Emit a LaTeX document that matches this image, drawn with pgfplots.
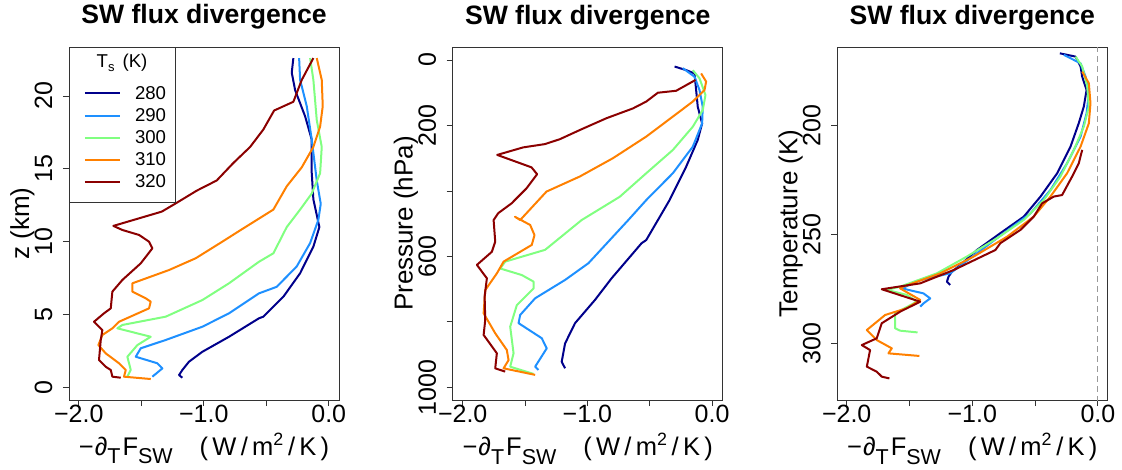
\documentclass[border=0pt]{standalone}
\usepackage{fontspec}
\setmainfont{Liberation Sans}
\usepackage{pgfplots}
\pgfplotsset{compat=1.18}
\definecolor{c280}{HTML}{00008B}
\definecolor{c290}{HTML}{1E90FF}
\definecolor{c300}{HTML}{80FF80}
\definecolor{c310}{HTML}{FF8000}
\definecolor{c320}{HTML}{8B0000}
\newcommand{\sub}[1]{\raisebox{-9pt}{\fontsize{21.5}{21.5}\selectfont #1}}
\newcommand{\xlab}{−\hspace*{1pt}∂\sub{T}\hspace*{2pt}F\sub{SW}\hspace*{27pt}(\,W\,/\,m\textsuperscript{2}\,/\,K\,)}
\pgfplotsset{
  panel/.style={
    scale only axis, width=270pt, height=353pt,
    anchor=north west,
    axis line style={black!80, line width=0.8pt},
    tick align=outside, major tick length=6pt,
    tick style={black!80, line width=0.8pt},
    xtick pos=lower, ytick pos=left,
    xmin=-2.078, xmax=0.082,
    xtick={-2,-1.5,-1,-0.5,0},
    xticklabels={−2.0,,−1.0,,0.0},
    tick label style={font=\fontsize{25}{25}\selectfont},
    xticklabel style={anchor=north, inner sep=0pt},
    xticklabel shift=-1pt,
    yticklabel style={rotate=90, anchor=south, inner sep=0pt},
    yticklabel shift=10.5pt,
    title={SW flux divergence},
    title style={font=\bfseries\fontsize{26.6}{26.6}\selectfont, at={(axis description cs:0.5,1)}, anchor=base, yshift=17pt},
    xlabel={\xlab},
    xlabel style={font=\fontsize{25.5}{25.5}\selectfont, at={(axis description cs:0.5,-0.1558)}, anchor=base},
    ylabel style={font=\fontsize{26}{26}\selectfont, at={(axis description cs:-0.148,0.5)}, anchor=base},
    every axis plot/.append style={line width=2pt, line join=round, no markers},
  }
}
\begin{document}
\begin{tikzpicture}
\useasboundingbox (0,0) rectangle (1122pt,-470pt);
% ---------- panel 1 ----------
\begin{axis}[panel, at={(69pt,-47pt)},
  ymin=-0.87, ymax=23.36, ytick={0,5,10,15,20}, yticklabels={0,5,10,15,20},
  ylabel={z (km)},
  legend style={font=\fontsize{18.6}{18.6}\selectfont, draw=black!80, line width=0.8pt, fill=white,
    at={(axis description cs:0,1)}, anchor=north west, inner xsep=9pt, inner ysep=13.65pt,
    row sep=7.6pt, nodes={inner sep=0pt}, /tikz/every odd column/.append style={column sep=14.1pt}},
  legend cell align=left,
  legend image code/.code={\path (0pt,0pt); \draw[#1, line width=2pt] (5.5pt,0pt) -- (40.5pt,0pt);},
]
\addlegendimage{empty legend}
\addlegendentry{\raisebox{0pt}[6pt][17.6pt]{\hspace*{-38.3pt}T\raisebox{-4pt}{\fontsize{13}{13}\selectfont s}\hspace*{8pt}(K)}}
\addlegendimage{empty legend}
\addlegendentry{\rule{0pt}{1pt}}
\addplot[c280] coordinates {(-0.283,22.6)(-0.296,21.6)(-0.269,20.4)(-0.189,18.6)(-0.136,17.0)(-0.136,14.7)(-0.123,12.9)(-0.075,11.0)(-0.123,9.66)(-0.229,7.83)(-0.363,6.22)(-0.523,4.85)(-0.558,4.74)(-0.798,3.47)(-1.011,2.44)(-1.118,1.76)(-1.171,1.19)(-1.198,0.84)(-1.171,0.66)};
\addlegendentry{280}
\addplot[c290] coordinates {(-0.237,22.6)(-0.229,21.1)(-0.176,19.3)(-0.136,17.0)(-0.096,14.2)(-0.064,12.6)(-0.083,11.5)(-0.149,9.9)(-0.256,8.3)(-0.416,6.9)(-0.558,6.45)(-0.798,5.08)(-1.011,4.16)(-1.304,3.25)(-1.504,2.68)(-1.544,2.1)(-1.371,1.65)(-1.331,1.3)(-1.411,0.73)};
\addlegendentry{290}
\addplot[c300] coordinates {(-0.149,22.6)(-0.123,21.1)(-0.096,18.35)(-0.056,16.5)(-0.069,14.7)(-0.136,13.3)(-0.229,12.2)(-0.336,11.0)(-0.443,9.2)(-0.558,8.62)(-0.798,7.14)(-1.011,5.99)(-1.304,4.85)(-1.651,4.28)(-1.691,4.05)(-1.424,3.47)(-1.531,2.9)(-1.611,2.1)(-1.584,1.19)(-1.611,0.73)};
\addlegendentry{300}
\addplot[c310] coordinates {(-0.096,22.6)(-0.056,21.1)(-0.048,19.3)(-0.069,17.9)(-0.123,16.5)(-0.216,15.1)(-0.336,13.8)(-0.443,12.2)(-0.704,10.8)(-0.851,10.0)(-1.064,8.86)(-1.278,8.05)(-1.571,7.14)(-1.571,6.57)(-1.464,6.11)(-1.424,5.88)(-1.438,5.42)(-1.678,4.5)(-1.731,4.05)(-1.811,3.59)(-1.843,2.9)(-1.784,2.33)(-1.678,1.65)(-1.624,1.19)(-1.638,0.73)(-1.424,0.57)};
\addlegendentry{310}
\addplot[c320] coordinates {(-0.123,22.6)(-0.216,21.1)(-0.283,19.6)(-0.437,19.0)(-0.523,17.7)(-0.629,16.5)(-0.763,15.4)(-0.896,14.2)(-1.056,13.5)(-1.229,12.6)(-1.336,12.06)(-1.723,11.08)(-1.651,10.8)(-1.518,10.46)(-1.438,10.0)(-1.411,9.54)(-1.504,8.51)(-1.651,7.37)(-1.731,6.57)(-1.744,5.42)(-1.798,5.08)(-1.878,4.5)(-1.811,3.93)(-1.824,3.25)(-1.838,1.87)(-1.784,1.41)(-1.744,1.19)(-1.731,0.73)(-1.664,0.66)};
\addlegendentry{320}
\end{axis}
% ---------- panel 2 ----------
\begin{axis}[panel, at={(452.7pt,-47pt)}, xmin=-2.08, xmax=0.085,
  y dir=reverse, ymin=-39.7, ymax=1038.8,
  ytick={0,200,400,600,800,1000}, yticklabels={0,200,,600,,1000},
  ylabel={Pressure (hPa)}]
\addplot[c280] coordinates {(-0.301,20)(-0.208,31)(-0.141,41)(-0.128,92)(-0.115,143)(-0.080,194)(-0.115,244)(-0.208,326)(-0.341,428)(-0.528,550)(-0.566,560)(-0.806,667)(-0.939,733)(-1.099,804)(-1.179,866)(-1.206,922)(-1.179,942)};
\addplot[c290] coordinates {(-0.235,25)(-0.141,51)(-0.101,92)(-0.075,143)(-0.080,194)(-0.155,265)(-0.315,346)(-0.528,428)(-0.672,489)(-0.992,621)(-1.179,672)(-1.419,728)(-1.539,779)(-1.552,804)(-1.366,850)(-1.326,881)(-1.419,937)(-1.392,947)};
\addplot[c300] coordinates {(-0.155,31)(-0.101,56)(-0.053,107)(-0.075,153)(-0.155,204)(-0.315,275)(-0.528,346)(-0.741,418)(-1.046,489)(-1.339,580)(-1.659,616)(-1.699,637)(-1.526,657)(-1.432,677)(-1.432,698)(-1.566,749)(-1.619,815)(-1.592,896)(-1.619,937)(-1.432,959)};
\addplot[c310] coordinates {(-0.088,41)(-0.048,66)(-0.061,92)(-0.155,127)(-0.315,173)(-0.528,234)(-0.795,300)(-1.061,356)(-1.328,402)(-1.539,489)(-1.581,479)(-1.459,504)(-1.424,535)(-1.446,565)(-1.672,616)(-1.726,652)(-1.819,703)(-1.832,774)(-1.739,835)(-1.646,886)(-1.632,917)(-1.672,942)(-1.419,962)};
\addplot[c320] coordinates {(-0.133,61)(-0.288,94)(-0.435,100)(-0.528,127)(-0.635,148)(-0.848,178)(-1.061,214)(-1.221,242)(-1.341,257)(-1.515,267)(-1.723,290)(-1.448,328)(-1.403,349)(-1.488,392)(-1.608,438)(-1.715,468)(-1.752,489)(-1.739,555)(-1.766,586)(-1.886,626)(-1.806,667)(-1.824,723)(-1.819,794)(-1.832,840)(-1.726,896)(-1.739,942)(-1.659,952)};
\end{axis}
% ---------- panel 3 ----------
\begin{axis}[panel, at={(837.3pt,-47pt)}, xmin=-2.075, xmax=0.075,
  y dir=reverse, ymin=164.1, ymax=326,
  ytick={200,250,300}, yticklabels={200,250,300},
  ylabel={Temperature (K)}]
\addplot[black!40, dash pattern=on 6pt off 4pt, line width=1pt] coordinates {(0,150)(0,340)};
\addplot[c280] coordinates {(-0.303,167)(-0.178,168.5)(-0.138,173)(-0.125,177.7)(-0.090,183.8)(-0.112,191.4)(-0.152,199)(-0.218,209.8)(-0.324,222)(-0.457,232.7)(-0.590,241.9)(-0.777,249.5)(-0.963,257.2)(-1.096,264.1)(-1.162,267.1)(-1.189,269.4)(-1.202,271.7)(-1.176,273.2)};
\addplot[c290] coordinates {(-0.271,167.7)(-0.138,171.6)(-0.098,177.7)(-0.072,185.3)(-0.090,194.5)(-0.138,205.2)(-0.245,217.4)(-0.378,229.7)(-0.537,240.4)(-0.750,249.5)(-0.963,258.7)(-1.176,267.9)(-1.415,271.0)(-1.561,274.8)(-1.389,277.1)(-1.335,279.4)(-1.389,281.7)(-1.415,283.2)};
\addplot[c300] coordinates {(-0.178,168.5)(-0.125,173)(-0.085,182.3)(-0.072,191.4)(-0.112,200.6)(-0.191,211.3)(-0.298,223.5)(-0.431,234.3)(-0.590,243.4)(-0.803,251.8)(-1.043,260.2)(-1.282,267.9)(-1.574,274)(-1.681,275.5)(-1.521,277.8)(-1.441,280.9)(-1.615,286.2)(-1.615,293.1)(-1.575,294.2)(-1.436,295.0)};
\addplot[c310] coordinates {(-0.125,175.4)(-0.072,180.7)(-0.059,189.9)(-0.072,199.1)(-0.138,209.8)(-0.245,222)(-0.378,232.7)(-0.511,241.9)(-0.723,251.1)(-0.989,260.2)(-1.255,267.9)(-1.548,274)(-1.575,274.8)(-1.415,280.1)(-1.521,283.9)(-1.694,287.0)(-1.840,293.9)(-1.761,298.5)(-1.641,302.3)(-1.668,304.6)(-1.421,305.8)};
\addplot[c320] coordinates {(-0.125,211.3)(-0.152,217.4)(-0.205,223.5)(-0.285,232.0)(-0.351,232.7)(-0.444,235.8)(-0.511,241.9)(-0.617,248.0)(-0.777,254.1)(-0.816,257.2)(-1.149,266.4)(-1.415,272.5)(-1.721,275.2)(-1.415,280.9)(-1.575,285.5)(-1.721,290.8)(-1.761,297.7)(-1.880,300.8)(-1.814,303.1)(-1.840,310.7)(-1.761,313.0)(-1.721,315.3)(-1.660,316.1)};
\end{axis}
\end{tikzpicture}
\end{document}
